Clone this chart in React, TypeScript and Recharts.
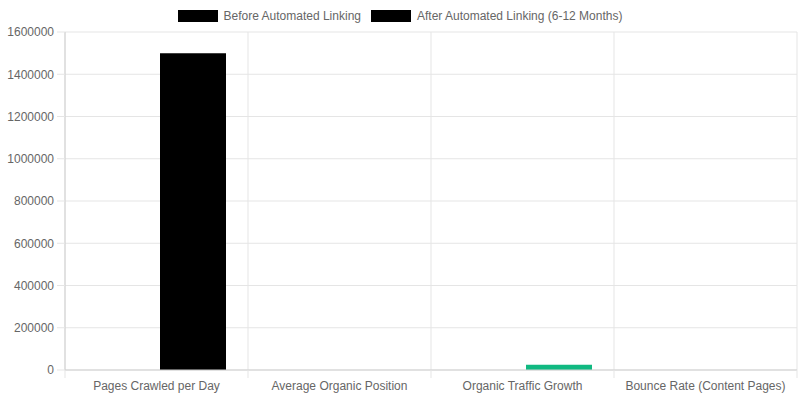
import { BarChart, Bar, XAxis, YAxis, CartesianGrid, Cell } from 'recharts'

// chart data
const categories = [
  'Pages Crawled per Day',
  'Average Organic Position',
  'Organic Traffic Growth',
  'Bounce Rate (Content Pages)',
]
const beforeValues = [500, 28, 0, 68]
const afterValues = [1500000, 8, 25000, 42]
const beforeColors = ['#000000', '#000000', '#000000', '#000000']
const afterColors = ['#000000', '#000000', '#10b981', '#000000']
const yTicks = [0, 200000, 400000, 600000, 800000, 1000000, 1200000, 1400000, 1600000]
const seriesNames = ['Before Automated Linking', 'After Automated Linking (6-12 Months)']

const data = categories.map((name, i) => ({
  name,
  before: beforeValues[i],
  after: afterValues[i],
}))

const WIDTH = 800
const HEIGHT = 400
const Y_AXIS_W = 65
const X_AXIS_H = 30
const MARGIN = { top: 32, right: 3, bottom: 0, left: 0 }
const PLOT_W = WIDTH - Y_AXIS_W - MARGIN.right - MARGIN.left
const PLOT_BOTTOM = HEIGHT - X_AXIS_H - MARGIN.bottom
const FONT = '"Liberation Sans", Arial, Helvetica, sans-serif'
const TEXT = '#666666'
const GRID = '#e5e5e5'
const AXIS = '#d0d0d0'

function CategoryTick(props: any) {
  const { x, y, payload, index } = props
  const band = PLOT_W / categories.length
  const left = x - band / 2
  return (
    <g>
      <line x1={left} x2={left} y1={PLOT_BOTTOM} y2={PLOT_BOTTOM + 8} stroke={GRID} />
      {index === categories.length - 1 && (
        <line x1={left + band} x2={left + band} y1={PLOT_BOTTOM} y2={PLOT_BOTTOM + 8} stroke={GRID} />
      )}
      <text x={x} y={y} dy="0.71em" textAnchor="middle" fill={TEXT} fontSize={12} fontFamily={FONT}>
        {payload.value}
      </text>
    </g>
  )
}

function LegendRow() {
  return (
    <div
      style={{
        position: 'absolute',
        top: 9,
        left: 0,
        width: WIDTH,
        display: 'flex',
        justifyContent: 'center',
        fontFamily: FONT,
        fontSize: 12,
        color: TEXT,
        lineHeight: '14px',
      }}
    >
      {seriesNames.map((name, i) => (
        <div key={name} style={{ display: 'flex', alignItems: 'center', marginRight: i === 0 ? 10 : 0 }}>
          <span style={{ width: 40, height: 12, background: '#000', marginRight: 6, display: 'inline-block' }} />
          <span>{name}</span>
        </div>
      ))}
    </div>
  )
}

export default function App() {
  return (
    <div style={{ position: 'absolute', left: 0, top: 0, width: WIDTH, height: HEIGHT, background: '#fff' }}>
      <LegendRow />
      <BarChart
        width={WIDTH}
        height={HEIGHT}
        data={data}
        margin={MARGIN}
        barSize={66}
        barGap={7}
      >
        <CartesianGrid
          stroke={GRID}
          verticalCoordinatesGenerator={({ offset }: any) =>
            Array.from({ length: categories.length + 1 }, (_, i) => offset.left + (i * offset.width) / categories.length)
          }
        />
        <XAxis
          dataKey="name"
          height={X_AXIS_H}
          interval={0}
          tickLine={false}
          tickSize={8}
          tickMargin={3}
          axisLine={{ stroke: AXIS }}
          tick={<CategoryTick />}
        />
        <YAxis
          width={Y_AXIS_W}
          domain={[0, 1600000]}
          ticks={yTicks}
          interval={0}
          tickSize={8}
          tickMargin={3}
          tickLine={{ stroke: GRID }}
          axisLine={{ stroke: AXIS }}
          tick={{ fill: TEXT, fontSize: 12, fontFamily: FONT }}
        />
        <Bar dataKey="before" name={seriesNames[0]} isAnimationActive={false}>
          {data.map((d, i) => (
            <Cell key={d.name} fill={beforeColors[i]} />
          ))}
        </Bar>
        <Bar dataKey="after" name={seriesNames[1]} isAnimationActive={false}>
          {data.map((d, i) => (
            <Cell key={d.name} fill={afterColors[i]} />
          ))}
        </Bar>
      </BarChart>
    </div>
  )
}
